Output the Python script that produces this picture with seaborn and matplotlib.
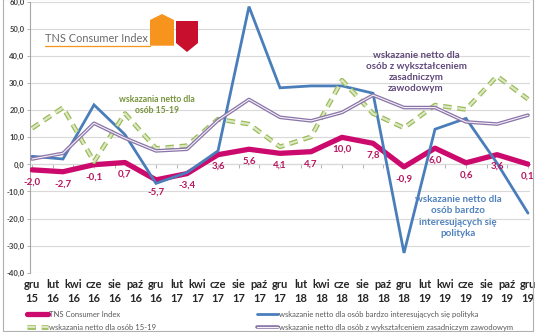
import numpy as np
import pandas as pd
import matplotlib
matplotlib.use("Agg")
import matplotlib.pyplot as plt
import matplotlib.patheffects as pe
from matplotlib.patches import Polygon, Rectangle
from matplotlib.lines import Line2D
import seaborn as sns

# ---------------- data ----------------
tick_months = [0, 2, 4, 6, 8, 10, 12, 14, 16, 18, 20, 22, 24, 26, 28, 30, 32, 34, 36, 38, 40, 42, 44, 46, 48]
tick_labels = ["gru\n15", "lut\n16", "kwi\n16", "cze\n16", "sie\n16", "paź\n16", "gru\n16",
               "lut\n17", "kwi\n17", "cze\n17", "sie\n17", "paź\n17", "gru\n17",
               "lut\n18", "kwi\n18", "cze\n18", "sie\n18", "paź\n18", "gru\n18",
               "lut\n19", "kwi\n19", "cze\n19", "sie\n19", "paź\n19", "gru\n19"]
# quarterly measurement points (months since Dec 2015)
point_months = [0, 3, 6, 9, 12, 15, 18, 21, 24, 27, 30, 33, 36, 39, 42, 45, 48]

tns = [-2.0, -2.7, -0.1, 0.7, -5.7, -3.4, 3.6, 5.6, 4.1, 4.7, 10.0, 7.8, -0.9, 6.0, 0.6, 3.6, 0.1]
politics = [3.0, 2.0, 22.0, 11.0, -7.0, -3.0, 5.0, 58.3, 28.3, 29.0, 29.0, 26.3, -32.7, 13.0, 17.0, 0.5, -18.0]
young = [13.3, 21.0, 1.0, 18.8, 5.9, 6.9, 16.7, 14.9, 6.5, 10.2, 31.1, 18.8, 13.5, 21.9, 20.3, 32.6, 24.1]
vocational = [2.0, 4.1, 15.2, 9.7, 5.0, 5.6, 16.3, 24.0, 17.4, 16.1, 19.2, 25.6, 21.0, 21.0, 15.7, 14.9, 18.2]

names = ["TNS Consumer Index",
         "wskazanie netto dla osób bardzo interesujących się polityka",
         "wskazania netto dla osób 15-19",
         "wskazanie netto dla osób z wykształceniem zasadniczym zawodowym"]

# ---------------- styling ----------------
W, H = 536, 332
sns.set_theme(style="white")
plt.rcParams["font.family"] = ["Lato", "DejaVu Sans"]

fig = plt.figure(figsize=(W / 100, H / 100), dpi=100)
fig.patch.set_facecolor("white")

ax_left, ax_right, ax_top, ax_bottom = 30, 530, 2, 272.7
ax = fig.add_axes([ax_left / W, 1 - ax_bottom / H, (ax_right - ax_left) / W, (ax_bottom - ax_top) / H])
ax.set_facecolor("white")

C_TNS = "#CC0A6E"
C_BLUE = "#4A7EBB"
C_GREEN_E = "#9BBB59"
C_GREEN_F = "#DCE8C4"
C_PURP_E = "#8A74A8"
C_PURP_F = "#F4F1F8"

df = pd.DataFrame({"m": point_months, "tns": tns, "pol": politics, "young": young, "voc": vocational})

sns.lineplot(data=df, x="m", y="tns", ax=ax, color=C_TNS, linewidth=3.8, label=names[0],
             solid_capstyle="round", solid_joinstyle="round", zorder=3)
sns.lineplot(data=df, x="m", y="pol", ax=ax, color=C_BLUE, linewidth=2.0, label=names[1],
             solid_joinstyle="miter", zorder=4)
sns.lineplot(data=df, x="m", y="young", ax=ax, color=C_GREEN_F, linewidth=1.6, label=names[2],
             linestyle=(0, (3.8, 2.6)), zorder=5,
             path_effects=[pe.Stroke(linewidth=3.4, foreground=C_GREEN_E), pe.Normal()])
sns.lineplot(data=df, x="m", y="voc", ax=ax, color=C_PURP_F, linewidth=0.8, label=names[3],
             zorder=6, path_effects=[pe.Stroke(linewidth=2.6, foreground=C_PURP_E), pe.Normal()])

handles = ax.get_lines()[:4]
if ax.get_legend() is not None:
    ax.get_legend().remove()

# axis scales
x_px = 496 / 48.0
ax.set_xlim(-(32 - ax_left) / x_px, 48 + (ax_right - 528) / x_px)
ax.set_ylim(-40, 60)
yt = [-40, -30, -20, -10, 0, 10, 20, 30, 40, 50, 60]
ax.set_yticks(yt)
ax.set_yticklabels([f"{v:.1f}".replace(".", ",") for v in yt])
ax.set_xticks(tick_months)
ax.set_xticklabels(tick_labels)
ax.set_xlabel("")
ax.set_ylabel("")

ax.grid(axis="y", color="#D9D9D9", linewidth=0.8)
ax.grid(axis="x", visible=False)
ax.set_axisbelow(True)
for s in ["top", "right", "bottom"]:
    ax.spines[s].set_visible(False)
ax.spines["left"].set_color("#A6A6A6")
ax.spines["left"].set_linewidth(0.8)
ax.tick_params(axis="y", labelsize=5.5, colors="#404040", length=2.5, width=0.6, pad=1.5, left=True,
               color="#A6A6A6")
for t in ax.get_yticklabels():
    t.set_fontweight("bold")
ax.tick_params(axis="x", labelsize=8, colors="#262626", length=0, pad=4.5)
for t in ax.get_xticklabels():
    t.set_fontweight("bold")
    t.set_linespacing(1.35)

# horizontal category axis line at zero, with tick marks
sec = ax.secondary_xaxis(0.4)
sec.set_xticks(tick_months)
sec.tick_params(axis="x", labelbottom=False, length=3, width=0.6, color="#A6A6A6", direction="out")
sec.spines["bottom"].set_color("#A6A6A6")
sec.spines["bottom"].set_linewidth(0.8)

# data labels for TNS
for m, v in zip(point_months, tns):
    ax.annotate(f"{v:.1f}".replace(".", ","), (m, v), xytext=(0, -8.6), textcoords="offset points",
                ha="center", va="center", fontsize=7, fontweight="bold", color="#B8165F", zorder=7)

# series annotations
def fx(px):
    return px / W

def fy(py):
    return 1 - py / H

fig.text(fx(157), fy(105), "wskazania netto dla\nosób 15-19", ha="center", va="center",
         fontsize=6.2, fontweight="bold", color="#77933C", linespacing=1.35)
fig.text(fx(416), fy(72), "wskazanie netto dla\nosób z wykształceniem\nzasadniczym\nzawodowym",
         ha="center", va="center", fontsize=7, fontweight="bold", color="#60497A", linespacing=1.3)
fig.text(fx(458), fy(216.5), "wskazanie netto dla\nosób bardzo\ninteresujących się\npolityka",
         ha="center", va="center", fontsize=7, fontweight="bold", color="#4F81BD", linespacing=1.3)

# logo
def poly(pts, color):
    fig.patches.append(Polygon([(fx(x), fy(y)) for x, y in pts], closed=True, transform=fig.transFigure,
                               facecolor=color, edgecolor="none", zorder=10))

poly([(150, 45.7), (150, 20), (162, 14), (174, 20), (174, 45.7)], "#F7941D")
poly([(176, 21), (198, 21), (198, 43), (187, 52), (176, 43)], "#C8102E")
fig.lines.append(Line2D([fx(45), fx(150)], [fy(45.7), fy(45.7)], transform=fig.transFigure,
                        color="#F7941D", linewidth=0.9, zorder=10))
fig.text(fx(45), fy(42.5), "TNS Consumer Index", ha="left", va="baseline", fontsize=7.9,
         color="#6A6A6A", zorder=10)

# legend
leg1 = fig.legend(handles=[handles[0], handles[2]], labels=[names[0], names[2]],
                  loc="center left", bbox_to_anchor=(fx(27), fy(321)), frameon=False,
                  fontsize=5.5, handlelength=2.7, handletextpad=0.2, labelspacing=0.75,
                  borderpad=0, borderaxespad=0)
leg2 = fig.legend(handles=[handles[1], handles[3]], labels=[names[1], names[3]],
                  loc="center left", bbox_to_anchor=(fx(257), fy(321)), frameon=False,
                  fontsize=5.5, handlelength=2.7, handletextpad=0.2, labelspacing=0.75,
                  borderpad=0, borderaxespad=0)
for lg in (leg1, leg2):
    for t in lg.get_texts():
        t.set_color("#595959")

# outer frame
fig.patches.append(Rectangle((fx(3), fy(331)), fx(530), 1.0, transform=fig.transFigure,
                             fill=False, edgecolor="#B0B0B0", linewidth=0.8, zorder=0))

fig.savefig("out.png", dpi=100)
